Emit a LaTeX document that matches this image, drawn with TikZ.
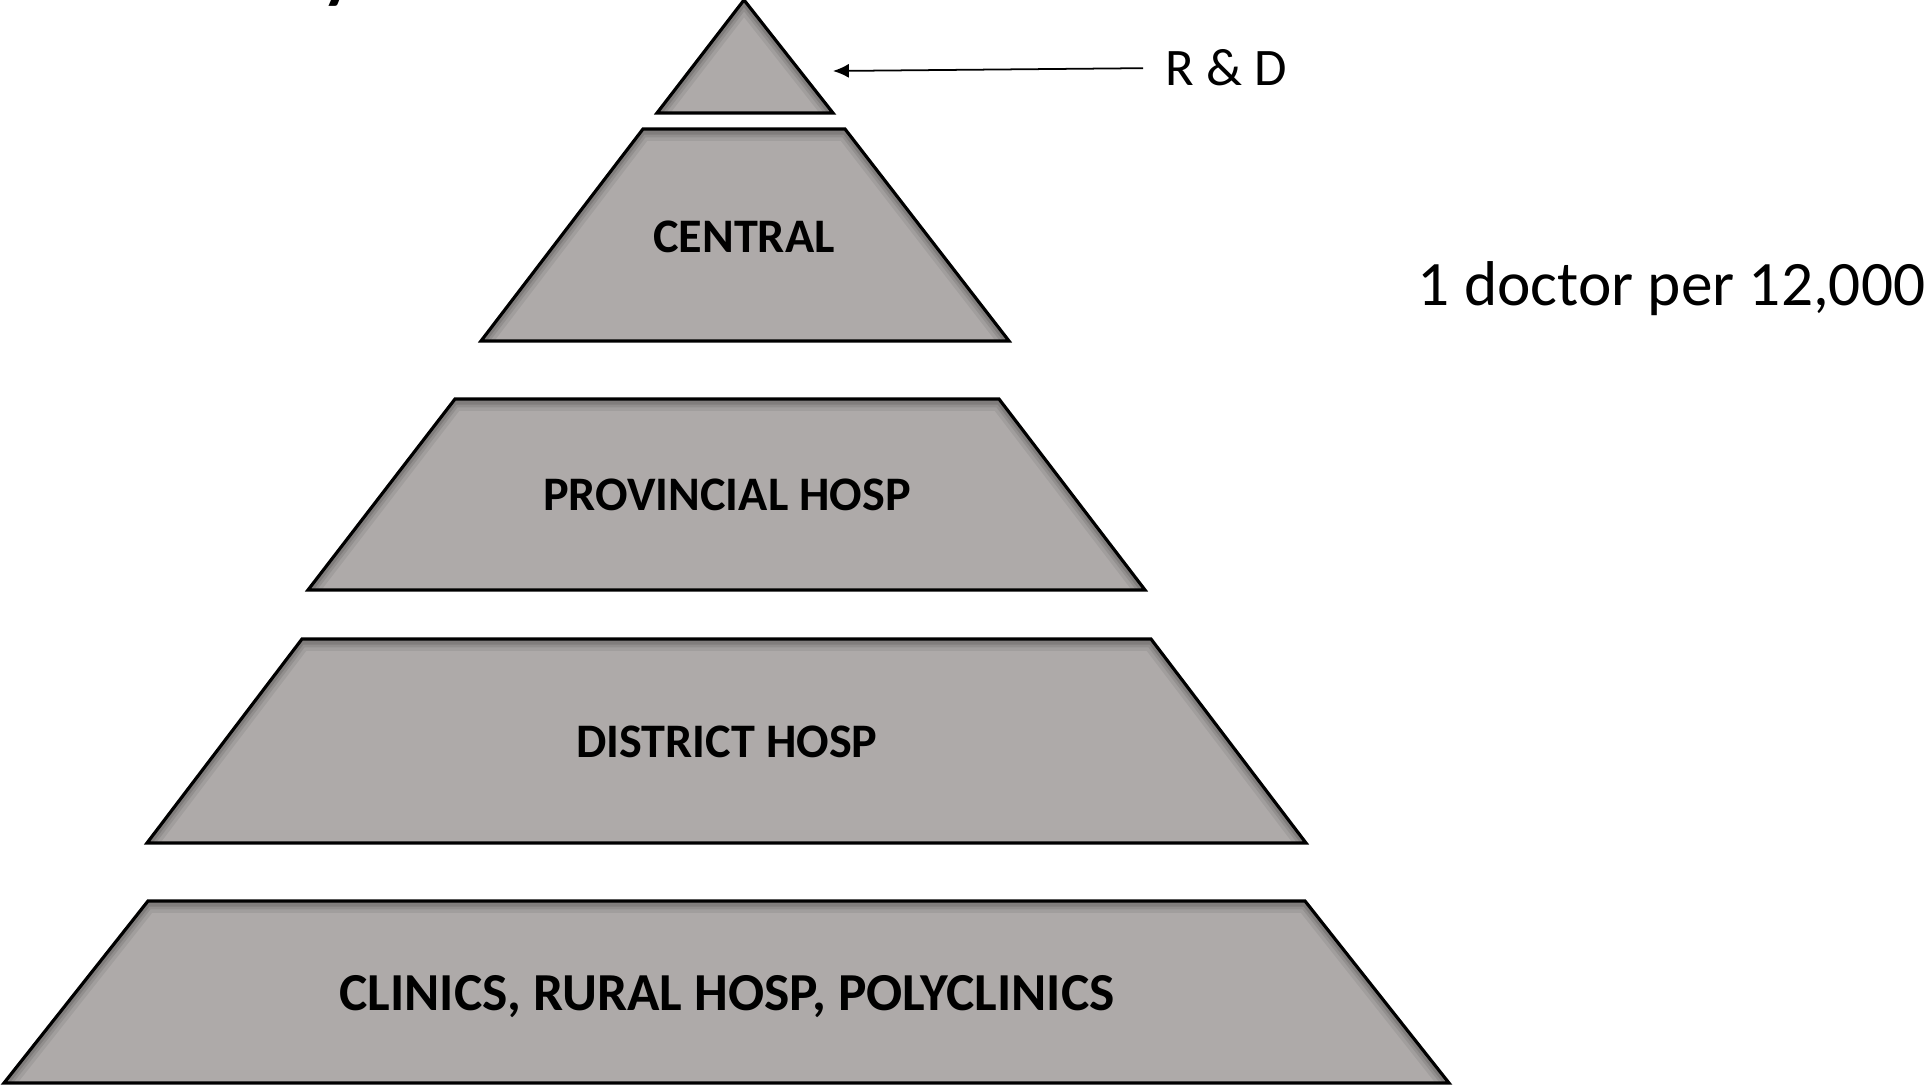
\documentclass[tikz,border=0pt]{standalone}
\usepackage{fontspec}
\setmainfont{Carlito}
\usetikzlibrary{arrows.meta}
\definecolor{tiergray}{RGB}{174,170,169}
\tikzset{>={Latex[length=4.5pt,width=4pt]}}
\tikzset{
  tieredge/.style={draw=black, line width=0.9pt, line join=miter},
  tierlabel/.style={inner sep=0pt, text depth=0pt, font=\bfseries\fontsize{13.7}{16}\selectfont},
  sidelabel/.style={inner sep=0pt, anchor=base west},
}
% one level of the pyramid: top-left x, top-right x, top y, bottom-left x, bottom-right x, bottom y
\newcommand{\pyrlevel}[6]{
  \begin{scope}
  \clip (#1,#3) -- (#2,#3) -- (#5,#6) -- (#4,#6) -- cycle;
  \fill[tiergray] (#1,#3) -- (#2,#3) -- (#5,#6) -- (#4,#6) -- cycle;
  \foreach \lw/\op in {5/0.07,3/0.09,1.5/0.12}
  \draw[black, opacity=\op, line width=\lw pt] (#4,#6+3) -- (#1,#3+3) -- (#2,#3+3) -- (#5,#6+3);
  \end{scope}
  \draw[tieredge] (#1,#3) -- (#2,#3) -- (#5,#6) -- (#4,#6) -- cycle;
}

\begin{document}
\begin{tikzpicture}[x=0.01cm, y=-0.01cm]
\useasboundingbox (0,0) rectangle (1932,1085);
% levels, top to bottom
\pyrlevel{744}{744}{0}{657}{833}{113}
\pyrlevel{643}{845}{129}{481}{1009}{341}
\pyrlevel{455}{999}{399}{308}{1145}{590}
\pyrlevel{302}{1151}{639}{147}{1306}{843}
\pyrlevel{148}{1305}{901}{4}{1449}{1083}
\node[tierlabel] (central) at (744,237) {CENTRAL};
\node[tierlabel] (provincial) at (727,495) {PROVINCIAL HOSP};
\node[tierlabel] (district) at (727,742) {DISTRICT HOSP};
\node[tierlabel, font=\bfseries\fontsize{15.2}{18}\selectfont] (clinics) at (727,993) {CLINICS, RURAL HOSP, POLYCLINICS};
% side notes
\coordinate (rdtip) at (833,71);
\node[sidelabel, outer sep=6.5pt, font=\fontsize{15}{18}\selectfont] (rd) at (1143,86) {R \& D};
\draw[->, line width=0.5pt] (rd.west) -- (rdtip);
\node[sidelabel, font=\fontsize{18}{22}\selectfont] (ratio) at (1417,306) {1 doctor per 12,000};
\node[sidelabel, font=\fontsize{28}{32}\selectfont] (titlerest) at (318,-9) {y};
\end{tikzpicture}
\end{document}
